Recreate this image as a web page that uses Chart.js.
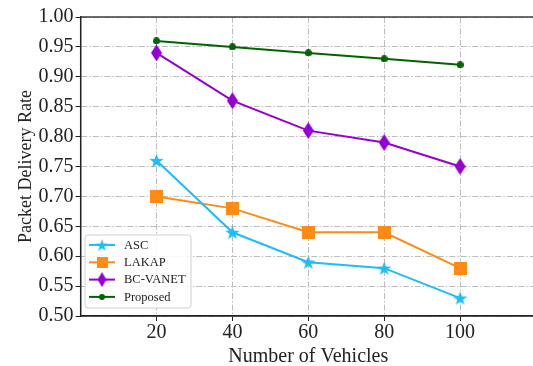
<!DOCTYPE html>
<html><head><meta charset="utf-8">
<script src="https://cdn.jsdelivr.net/npm/chart.js@4.4.1/dist/chart.umd.min.js"></script>
<style>html,body{margin:0;padding:0;background:#fff;overflow:hidden;width:533px;height:366px}</style>
</head><body><canvas id="c" width="600" height="366"></canvas>
<script>
const categories = [20, 40, 60, 80, 100];
const seriesNames = ['ASC', 'LAKAP', 'BC-VANET', 'Proposed'];
const ascValues = [0.76, 0.64, 0.59, 0.58, 0.53];
const lakapValues = [0.70, 0.68, 0.64, 0.64, 0.58];
const bcVanetValues = [0.94, 0.86, 0.81, 0.79, 0.75];
const proposedValues = [0.96, 0.95, 0.94, 0.93, 0.92];
const yTickLabels = ['0.50','0.55','0.60','0.65','0.70','0.75','0.80','0.85','0.90','0.95','1.00'];
const xTickLabels = ['20','40','60','80','100'];
const xTitle = 'Number of Vehicles';
const yTitle = 'Packet Delivery Rate';

const colors = ['#1ebdfa', '#ff8a14', '#9400d3', '#006400'];
const FONT = "'Liberation Serif', 'Times New Roman', serif";

function starCanvas(color, size) {
  const c = document.createElement('canvas'); c.width = c.height = size;
  const g = c.getContext('2d'); const R = size / 2, r = R * 0.4;
  g.beginPath();
  for (let i = 0; i < 10; i++) {
    const rad = i % 2 ? r : R; const a = -Math.PI / 2 + i * Math.PI / 5;
    const px = R + rad * Math.cos(a), py = R + rad * Math.sin(a) + size*0.05;
    i ? g.lineTo(px, py) : g.moveTo(px, py);
  }
  g.closePath(); g.fillStyle = color; g.fill(); return c;
}
function diamondCanvas(color, w, h) {
  const c = document.createElement('canvas'); c.width = w; c.height = h;
  const g = c.getContext('2d');
  g.beginPath(); g.moveTo(w/2, 0); g.lineTo(w, h/2); g.lineTo(w/2, h); g.lineTo(0, h/2); g.closePath();
  g.fillStyle = color; g.fill(); return c;
}
function squareCanvas(color, s) {
  const c = document.createElement('canvas'); c.width = c.height = s;
  const g = c.getContext('2d'); g.fillStyle = color; g.fillRect(0,0,s,s); return c;
}
function circleCanvas(color, s) {
  const c = document.createElement('canvas'); c.width = c.height = s;
  const g = c.getContext('2d'); g.beginPath(); g.arc(s/2, s/2, s/2, 0, Math.PI*2); g.fillStyle = color; g.fill(); return c;
}
const markers = [starCanvas(colors[0], 15), squareCanvas(colors[1], 13), diamondCanvas(colors[2], 11, 17), circleCanvas(colors[3], 7)];
const legendMarkers = [starCanvas(colors[0], 13), squareCanvas(colors[1], 11), diamondCanvas(colors[2], 9, 15), circleCanvas(colors[3], 6)];
const allValues = [ascValues, lakapValues, bcVanetValues, proposedValues];

const datasets = seriesNames.map((name, i) => ({
  label: name,
  data: categories.map((x, j) => ({x: x, y: allValues[i][j]})),
  borderColor: colors[i], backgroundColor: colors[i], borderWidth: 2,
  pointStyle: markers[i], pointRadius: 7, pointHoverRadius: 7, fill: false, tension: 0
}));

const framePlugin = {
  id: 'frame',
  afterDatasetsDraw(chart) {
    const {ctx, chartArea: a} = chart;
    ctx.save(); ctx.strokeStyle = '#222'; ctx.lineWidth = 1.3;
    ctx.strokeRect(a.left, a.top, a.right - a.left, a.bottom - a.top);
    ctx.restore();
  },
  afterDraw(chart) {
    const ctx = chart.ctx;
    const xs = chart.scales.x;
    ctx.save();
    ctx.font = '20px ' + FONT; ctx.fillStyle = '#222'; ctx.textAlign = 'center'; ctx.textBaseline = 'middle';
    ctx.fillText(xTitle, xs.getPixelForValue(categories[2]), xs.bottom - 12);
    ctx.restore();
    const bx = 85, by = 235, bw = 106, bh = 73;
    ctx.save();
    ctx.beginPath();
    if (ctx.roundRect) ctx.roundRect(bx, by, bw, bh, 3); else ctx.rect(bx, by, bw, bh);
    ctx.fillStyle = 'rgba(255,255,255,0.85)'; ctx.fill();
    ctx.strokeStyle = '#d0d0d0'; ctx.lineWidth = 1; ctx.stroke();
    ctx.font = '12.5px ' + FONT; ctx.textBaseline = 'middle'; ctx.fillStyle = '#222';
    chart.data.datasets.forEach((ds, i) => {
      const y = by + 10 + i * 17.3;
      ctx.beginPath(); ctx.moveTo(89, y); ctx.lineTo(115, y);
      ctx.strokeStyle = ds.borderColor; ctx.lineWidth = 2; ctx.stroke();
      const m = legendMarkers[i];
      ctx.drawImage(m, 102 - m.width/2, y - m.height/2);
      ctx.fillText(ds.label, 124, y + 0.5);
    });
    ctx.restore();
  }
};

new Chart(document.getElementById('c'), {
  type: 'line',
  data: { datasets },
  plugins: [framePlugin],
  options: {
    responsive: false, animation: false, devicePixelRatio: 1,
    layout: { padding: { top: 17, right: 0, left: 9, bottom: -3 } },
    plugins: { legend: { display: false }, tooltip: { enabled: false } },
    scales: {
      x: {
        type: 'linear', min: 0, max: 134.5,
        afterBuildTicks: s => { s.ticks = xTickLabels.map(v => ({value: Number(v)})); },
        ticks: { font: { family: FONT, size: 20, lineHeight: 1.2 }, color: '#222', padding: 0, maxRotation: 0, callback: v => String(v) },
        grid: { color: '#bdbdbd', lineWidth: 1, tickColor: '#222', tickLength: 5, tickWidth: 1 },
        border: { color: '#222', width: 1.3, dash: [6, 2, 1.5, 2] },
        title: { display: true, text: xTitle, font: { family: FONT, size: 20, lineHeight: 1.2 }, color: 'rgba(0,0,0,0)', padding: { top: 0, bottom: 0 } }
      },
      y: {
        min: 0.5, max: 1.0,
        afterBuildTicks: s => { s.ticks = yTickLabels.map(v => ({value: Number(v)})); },
        ticks: { font: { family: FONT, size: 20 }, color: '#222', padding: 2, callback: v => Number(v).toFixed(2) },
        grid: { color: '#bdbdbd', lineWidth: 1, tickColor: '#222', tickLength: 5, tickWidth: 1 },
        border: { color: '#222', width: 1.3, dash: [6, 2, 1.5, 2] },
        title: { display: true, text: yTitle, font: { family: FONT, size: 18, lineHeight: 1.2 }, color: '#222', padding: { top: 6, bottom: 0 } }
      }
    }
  }
});
</script></body></html>
